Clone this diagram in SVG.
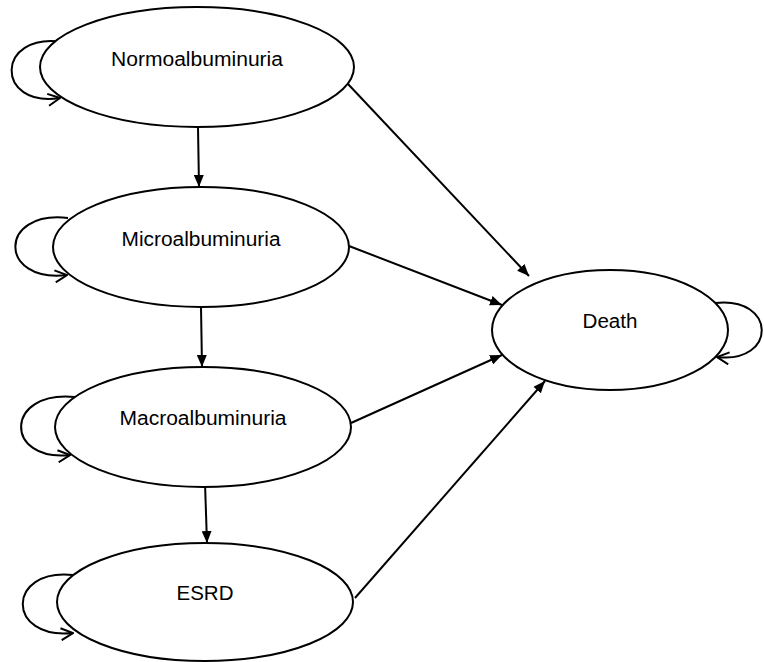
<svg xmlns="http://www.w3.org/2000/svg" width="764" height="662" viewBox="0 0 764 662">
<style>
.node ellipse{fill:#fff;stroke:#000;stroke-width:2}
.node text{font-family:"Liberation Sans",Arial,sans-serif;font-size:20px;fill:#000;text-anchor:middle}
.edge{fill:none;stroke:#000;stroke-width:2}
.arrow{marker-end:url(#fill)}
.loop{marker-end:url(#open)}
</style>
<defs>
<marker id="fill" viewBox="0 0 12 10" refX="12" refY="5" markerWidth="12" markerHeight="10" markerUnits="userSpaceOnUse" orient="auto">
<path d="M0,0 L12,5 L0,10 Z" fill="#000"/>
</marker>
<marker id="open" viewBox="0 0 14 14" refX="13" refY="7" markerWidth="14" markerHeight="14" markerUnits="userSpaceOnUse" orient="auto">
<path d="M1,1 L13,7 L1,13" fill="none" stroke="#000" stroke-width="2"/>
</marker>
</defs>
<rect width="764" height="662" fill="#fff"/>
<g id="connectors">
<path class="edge loop" d="M63,42 C-5,32 -5,108 60,98"/>
<path class="edge loop" d="M68,218 C-2,210 -2,283 67,275"/>
<path class="edge loop" d="M75,397 C4,390 4,462 70,455"/>
<path class="edge loop" d="M73,575 C6,568 6,640 73,633"/>
<path class="edge loop" d="M715,303 C777,296 777,364 717,357"/>
<path class="edge arrow" d="M198,127 L199,187"/>
<path class="edge arrow" d="M201,307 L202,367"/>
<path class="edge arrow" d="M205,483 L207,543"/>
<path class="edge arrow" d="M348,84 L529,276"/>
<path class="edge arrow" d="M349,246 L502,305"/>
<path class="edge arrow" d="M351,423 L502,355"/>
<path class="edge arrow" d="M355,598 L545,381"/>
</g>
<g id="normo" class="node"><ellipse cx="197" cy="67" rx="157" ry="60"/><text x="197" y="66" textLength="172" lengthAdjust="spacingAndGlyphs">Normoalbuminuria</text></g>
<g id="micro" class="node"><ellipse cx="201" cy="247" rx="148" ry="60"/><text x="201" y="246" textLength="159" lengthAdjust="spacingAndGlyphs">Microalbuminuria</text></g>
<g id="macro" class="node"><ellipse cx="203" cy="427" rx="148" ry="60"/><text x="203" y="425" textLength="167" lengthAdjust="spacingAndGlyphs">Macroalbuminuria</text></g>
<g id="esrd" class="node"><ellipse cx="205" cy="602" rx="148" ry="59"/><text x="205" y="600" textLength="57" lengthAdjust="spacingAndGlyphs">ESRD</text></g>
<g id="death" class="node"><ellipse cx="610" cy="330" rx="118" ry="60"/><text x="610" y="328" textLength="55" lengthAdjust="spacingAndGlyphs">Death</text></g>
</svg>
